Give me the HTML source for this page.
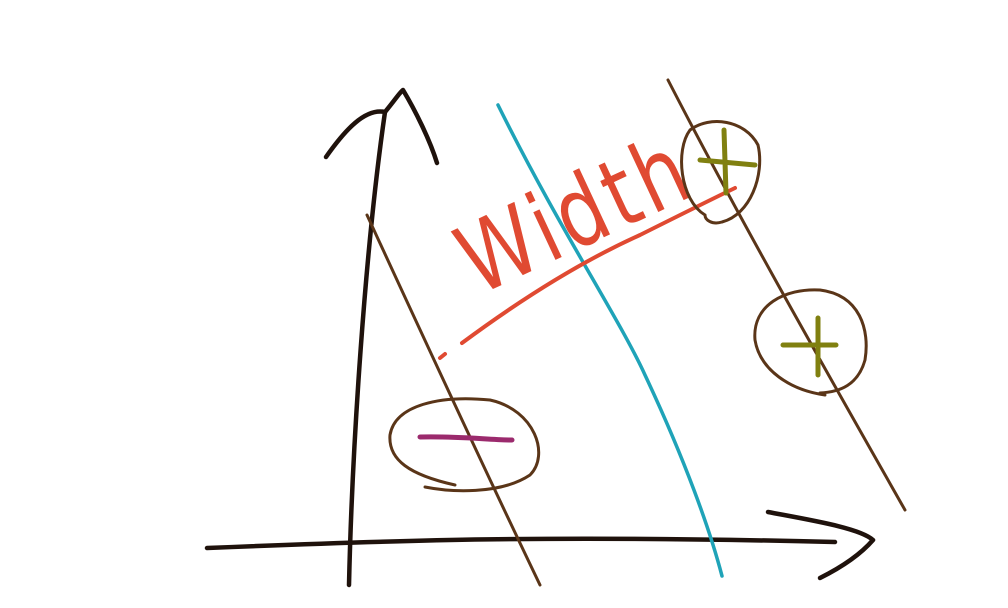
<!DOCTYPE html>
<html><head><meta charset="utf-8"><style>
html,body{margin:0;padding:0;background:#fff;width:1008px;height:608px;overflow:hidden}
svg{display:block}
</style></head><body>
<svg width="1008" height="608" viewBox="0 0 1008 608" fill="none" stroke-linecap="round" stroke-linejoin="round">
<g stroke="#1f120c" stroke-width="4.5">
<path d="M349 585 C352 450 365 250 385 112"/>
<path d="M326 157 C345 130 365 108 385 112 C395 100 400 92 403 90 C415 110 430 140 437 163"/>
</g>
<g stroke="#1f120c" stroke-width="4.5">
<path d="M207 548 C400 540 550 535 835 542"/>
<path d="M768 512 C810 520 860 528 873 540 C860 555 840 568 820 578"/>
</g>
<path stroke="#5a3518" stroke-width="3" d="M367 215 C420 330 480 460 540 585"/>
<path stroke="#1fa3b8" stroke-width="3.5" d="M498 105 C560 230 620 320 645 375 C685 460 710 530 722 576"/>
<path stroke="#5a3518" stroke-width="3" d="M668 80 C740 220 820 360 905 510"/>
<g stroke="#e04a32" stroke-width="4">
<path d="M440 358 L445 354"/>
<path d="M462 343 C520 300 580 262 640 235 C680 215 710 200 735 188"/>
</g>
<text x="0" y="0" transform="translate(478 296) rotate(-25)" font-family="DejaVu Sans, sans-serif" font-weight="normal" font-size="96" fill="#e04a32" stroke="none" letter-spacing="6" textLength="245" lengthAdjust="spacingAndGlyphs">Width</text>
<g>
<path stroke="#5a3518" stroke-width="3" d="M425 487 C450 492 500 495 530 475 C550 455 535 410 490 400 C440 395 395 405 390 435 C388 460 410 475 455 485"/>
<path stroke="#9b2a6d" stroke-width="5" d="M420 437 C460 436 490 440 512 440"/>
</g>
<g>
<path stroke="#5a3518" stroke-width="3" d="M705 215 C680 200 675 150 690 130 C710 115 745 120 758 145 C765 175 750 215 722 222 C712 225 705 220 705 215"/>
<path stroke="#808010" stroke-width="5" d="M700 160 L755 165 M724 130 L726 193"/>
</g>
<g>
<path stroke="#5a3518" stroke-width="3" d="M825 395 C790 390 760 370 755 340 C752 305 785 288 820 290 C860 295 870 330 865 360 C858 385 840 392 820 393"/>
<path stroke="#808010" stroke-width="5" d="M783 345 L836 345 M818 318 L818 375"/>
</g>
</svg>
</body></html>
